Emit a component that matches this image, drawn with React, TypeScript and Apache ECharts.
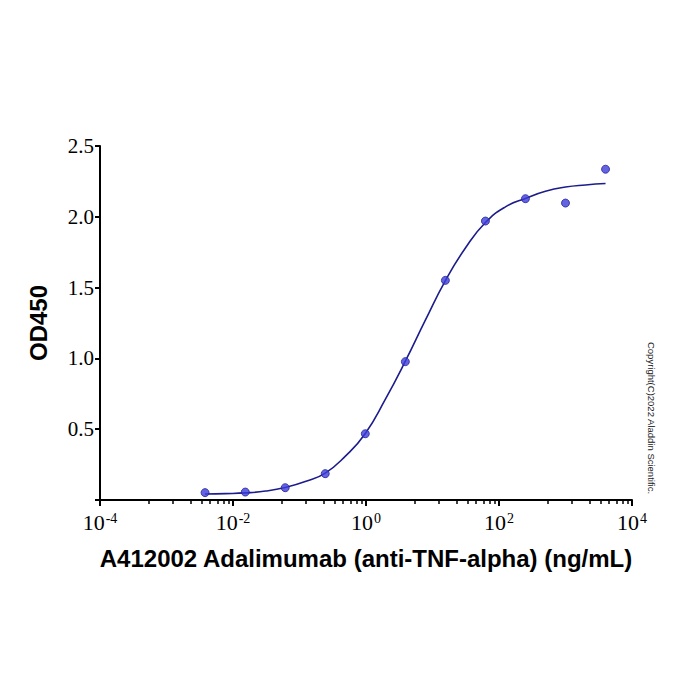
import * as echarts from 'echarts'
import { useEffect, useRef } from 'react'

// concentration (ng/mL) of each measured well, 4-fold dilution
const concentrations = [0.0038, 0.0153, 0.061, 0.244, 0.977, 3.906, 15.63, 62.5, 250, 1000, 4000]
const od450 = [0.052, 0.056, 0.087, 0.186, 0.468, 0.977, 1.551, 1.97, 2.128, 2.097, 2.336]

// fitted curve
const curveX = [
  0.0038, 0.0077, 0.0153, 0.031, 0.061, 0.122, 0.244, 0.49, 0.977, 1.95, 3.906, 7.81, 15.63, 31.25,
  62.5, 125, 250, 500, 1000, 2000, 4000,
]
const curveY = [
  0.042, 0.045, 0.05, 0.063, 0.088, 0.13, 0.19, 0.31, 0.47, 0.71, 0.98, 1.27, 1.55, 1.78, 1.96, 2.07,
  2.13, 2.18, 2.21, 2.225, 2.235,
]

const xMajorTicks = [1e-4, 1e-2, 1, 1e2, 1e4]
const yTicks = [0.5, 1.0, 1.5, 2.0, 2.5]
// minor tick positions inside each two-decade step, as multiples of the step's start
const minorTickFactors = [5.4, 12.6, 23, 34, 45, 60, 72, 85]

const xTitle = 'A412002 Adalimumab (anti-TNF-alpha) (ng/mL)'
const yTitle = 'OD450'
const copyright = 'Copyright(C)2022 Aladdin Scientific.'

const minorTicks = xMajorTicks.slice(0, -1).flatMap((start) => minorTickFactors.map((f) => f * start))

const serif = "'Liberation Serif', 'Times New Roman', serif"
const sans = "'Liberation Sans', Arial, sans-serif"

export default function App() {
  const ref = useRef<HTMLDivElement>(null)

  useEffect(() => {
    const el = ref.current
    if (!el) return
    const chart = echarts.init(el, null, { renderer: 'svg' })
    chart.setOption({
      animation: false,
      backgroundColor: '#fff',
      grid: { left: 100, right: 68, top: 146, bottom: 200, containLabel: false },
      xAxis: [
        {
          type: 'log',
          logBase: 10,
          min: 1e-4,
          max: 1e4,
          name: xTitle,
          nameLocation: 'middle',
          nameGap: 46,
          nameTextStyle: { fontFamily: sans, fontWeight: 'bold', fontSize: 24, color: '#000' },
          axisLine: { onZero: false, lineStyle: { color: '#000', width: 2 } },
          axisTick: { length: 6, customValues: xMajorTicks, lineStyle: { color: '#000', width: 2 } },
          splitLine: { show: false },
          axisLabel: {
            margin: 11,
            customValues: xMajorTicks,
            formatter: (v: number) => `{b|10}{s|${Math.round(Math.log10(v))}}`,
            rich: {
              b: { fontFamily: serif, fontSize: 22, color: '#000' },
              s: { fontFamily: serif, fontSize: 14, color: '#000', padding: [0, 0, 9, 1] },
            },
          },
        },
        {
          type: 'value',
          min: -4,
          max: 4,
          position: 'bottom',
          axisLine: { show: false, onZero: false },
          axisLabel: { show: false },
          splitLine: { show: false },
          axisTick: {
            show: true,
            length: 4,
            customValues: minorTicks.map((v) => Math.log10(v)),
            lineStyle: { color: '#000', width: 1.5 },
          },
        },
      ],
      yAxis: {
        type: 'value',
        min: 0,
        max: 2.5,
        interval: 0.5,
        name: yTitle,
        nameLocation: 'middle',
        nameGap: 50,
        nameTextStyle: { fontFamily: sans, fontWeight: 'bold', fontSize: 24, color: '#000' },
        axisLine: { show: true, onZero: false, lineStyle: { color: '#000', width: 2 } },
        axisTick: { show: true, length: 5, lineStyle: { color: '#000', width: 2 } },
        splitLine: { show: false },
        axisLabel: {
          margin: 6,
          fontFamily: serif,
          fontSize: 21,
          color: '#000',
          formatter: (v: number) => (yTicks.includes(v) ? v.toFixed(1) : ''),
        },
      },
      graphic: [
        {
          type: 'text',
          x: 651,
          y: 418,
          rotation: -Math.PI / 2,
          style: {
            text: copyright,
            fontFamily: sans,
            fontSize: 9.5,
            fill: '#222',
            align: 'center',
            verticalAlign: 'middle',
          },
        },
      ],
      series: [
        {
          type: 'line',
          data: curveX.map((x, i) => [x, curveY[i]]),
          smooth: true,
          showSymbol: false,
          lineStyle: { color: '#1c1c8c', width: 1.6 },
          silent: true,
          z: 2,
        },
        {
          type: 'scatter',
          data: concentrations.map((x, i) => [x, od450[i]]),
          symbol: 'circle',
          symbolSize: 8,
          itemStyle: { color: '#3d3ddc', borderColor: '#22229a', borderWidth: 1 },
          z: 3,
        },
      ],
    })
    return () => chart.dispose()
  }, [])

  return <div ref={ref} style={{ position: 'fixed', left: 0, top: 0, width: 700, height: 700 }} />
}
